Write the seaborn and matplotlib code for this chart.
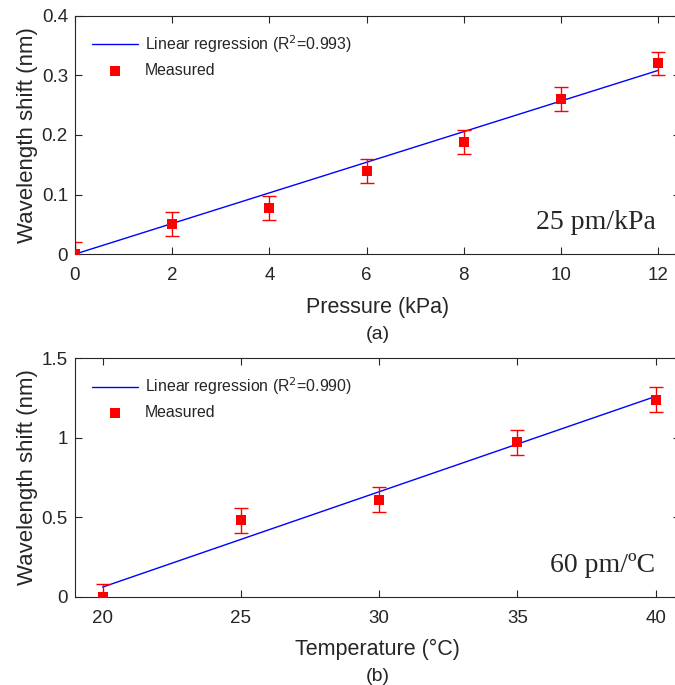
import numpy as np
import pandas as pd
import matplotlib
matplotlib.use("Agg")
import matplotlib.pyplot as plt
import seaborn as sns

# panel (a): pressure response
pressure = [0, 2, 4, 6, 8, 10, 12]
shift_p = [0.0, 0.05, 0.078, 0.14, 0.188, 0.26, 0.32]
err_p = [0.02, 0.02, 0.02, 0.02, 0.02, 0.02, 0.02]
fit_p = [0.0257, 0.0]   # slope, intercept

# panel (b): temperature response
temperature = [20, 25, 30, 35, 40]
shift_t = [0.0, 0.48, 0.61, 0.97, 1.24]
err_t = [0.08, 0.08, 0.08, 0.08, 0.08]
fit_t = [0.06, -1.14]


sns.set_style("ticks")
plt.rcParams['font.family'] = ['Liberation Sans', 'DejaVu Sans']

fig = plt.figure(figsize=(6.75, 6.85), dpi=100)
# right edge sits just outside the canvas, as in the cropped original
ax1 = fig.add_axes([0.111, 0.629, 0.896, 0.348])
ax2 = fig.add_axes([0.111, 0.129, 0.896, 0.348])


def draw_panel(ax, x, y, err, fit, r2, xlim, ylim, xticks, yticks, ytl, xlabel, tag, note):
    xs = np.array([x[0], x[-1]])
    line = pd.DataFrame({"x": xs, "y": fit[0] * xs + fit[1]})
    sns.lineplot(data=line, x="x", y="y", ax=ax, color="blue", linewidth=1,
                 label="Linear regression (R$^2$=%s)" % r2)
    ax.errorbar(x, y, yerr=err, fmt="none", ecolor="red", elinewidth=1,
                capsize=5, capthick=1)
    pts = pd.DataFrame({"x": x, "y": y})
    sns.scatterplot(data=pts, x="x", y="y", ax=ax, color="red", marker="s",
                    s=50, edgecolor="red", linewidth=0, label="Measured", zorder=5)

    ax.set_xlim(*xlim)
    ax.set_ylim(*ylim)
    ax.set_xticks(xticks)
    ax.set_yticks(yticks)
    ax.set_yticklabels(ytl)
    ax.tick_params(direction="in", top=True, right=True, labelsize=13.5,
                   length=5, width=0.8, colors="#262626")
    ax.tick_params(axis="x", pad=9.5)
    ax.tick_params(axis="y", pad=5)
    for s in ax.spines.values():
        s.set_linewidth(0.8)
        s.set_color("#262626")
    ax.set_xlabel(xlabel, fontsize=15.5, color="#262626", labelpad=9)
    ax.set_ylabel("Wavelength shift (nm)", fontsize=16, color="#262626", labelpad=3)
    ax.text(0.5, -0.30, tag, transform=ax.transAxes, ha="center", va="top",
            fontsize=14, color="#262626")
    ax.text(0.96, 0.08, note, transform=ax.transAxes, ha="right", va="bottom",
            fontsize=20, family=["Liberation Serif", "DejaVu Serif"])
    ax.legend(loc="upper left", frameon=False, fontsize=11.4, handlelength=2.9,
              borderaxespad=0.7, handletextpad=0.4, labelspacing=0.5)


draw_panel(ax1, pressure, shift_p, err_p, fit_p, "0.993", (0, 12.44), (0, 0.4),
           [0, 2, 4, 6, 8, 10, 12], [0, 0.1, 0.2, 0.3, 0.4],
           ["0", "0.1", "0.2", "0.3", "0.4"], "Pressure (kPa)", "(a)", "25 pm/kPa")
draw_panel(ax2, temperature, shift_t, err_t, fit_t, "0.990", (19.0, 40.87), (0, 1.5),
           [20, 25, 30, 35, 40], [0, 0.5, 1, 1.5],
           ["0", "0.5", "1", "1.5"], "Temperature (°C)", "(b)", "60 pm/ºC")

fig.savefig("out.png", dpi=100)
